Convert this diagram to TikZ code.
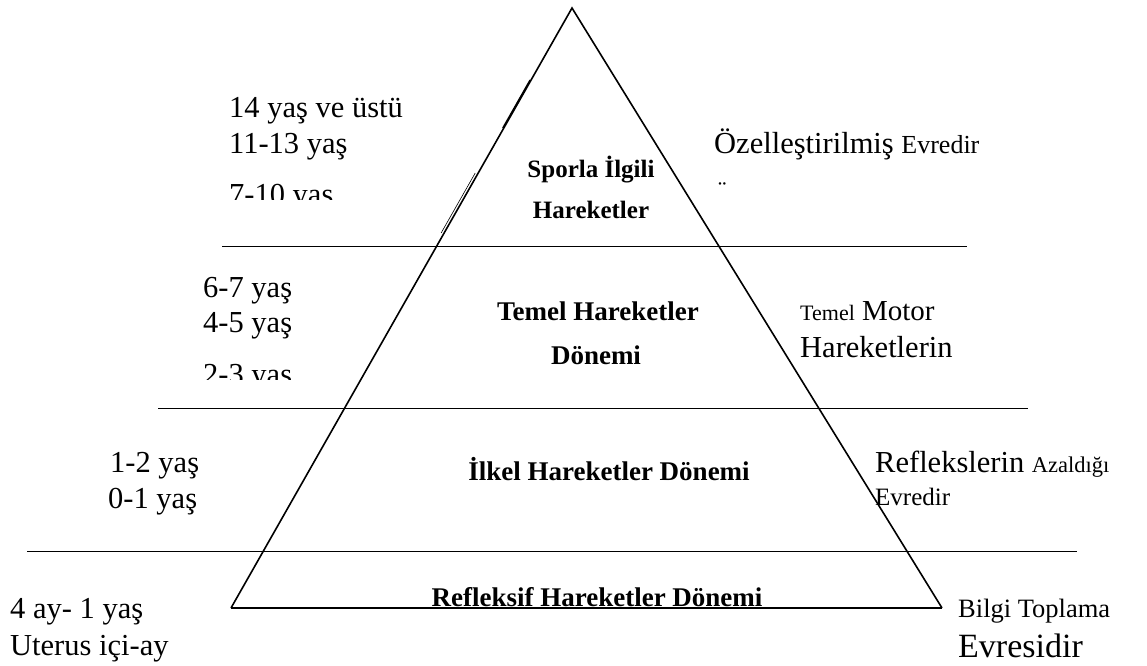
\documentclass[tikz,border=0pt]{standalone}
\usepackage{fontspec}
\setmainfont{Liberation Serif}
\usetikzlibrary{calc}
\begin{document}
\begin{tikzpicture}[x=1pt,y=-1pt,
  big/.style={anchor=base west,inner sep=0pt,font=\fontsize{30.5}{36}\selectfont},
  sml/.style={anchor=base west,inner sep=0pt,font=\fontsize{25}{30}\selectfont},
  ctr/.style={anchor=base,inner sep=0pt,font=\bfseries\fontsize{27}{30}\selectfont},
  edge/.style={line width=1.6pt},
  rule/.style={line width=1pt}]
\useasboundingbox (0,0) rectangle (1147,665);
% triangle
\coordinate (apex) at (572,8);
\coordinate (bl) at (231,608);
\coordinate (br) at (942,608);
\draw[edge] (bl) -- (apex) -- (br);
\draw[line width=2.2pt] (bl) -- (br);
% doubled strokes on the left side
\draw[line width=1.4pt] ($(apex)!0.12!(bl)+(-1,0)$) -- ($(apex)!0.20!(bl)+(-1,0)$);
\draw[line width=0.6pt] ($(apex)!0.275!(bl)+(-3,0)$) -- ($(apex)!0.375!(bl)+(-3,0)$);
% horizontal rules
\coordinate (r1a) at (222,246); \coordinate (r1b) at (967,246);
\coordinate (r2a) at (158,408); \coordinate (r2b) at (1028,408);
\coordinate (r3a) at (27,551);  \coordinate (r3b) at (1077,551);
\draw[rule] (r1a) -- (r1b);
\draw[rule] (r2a) -- (r2b);
\draw[rule] (r3a) -- (r3b);
% left column
\node[big] (a14) at (229,117) {14 yaş ve üstü};
\node[big] (a11) at (229,153) {11-13 yaş};
\begin{scope}
\clip (220,170) rectangle (400,199);
\node[big] (a7) at (229,204) {7-10 yaş};
\end{scope}
\node[big] (a6) at (203,297) {6-7 yaş};
\node[big] (a4) at (203,332) {4-5 yaş};
\begin{scope}
\clip (195,350) rectangle (380,379);
\node[big] (a2) at (203,384) {2-3 yaş};
\end{scope}
\node[big] (a1) at (110,472) {1-2 yaş};
\node[big] (a0) at (108,508) {0-1 yaş};
\node[big] (ay) at (10,618) {4 ay- 1 yaş};
\node[big] (ut) at (10,655) {Uterus içi-ay};
% centre labels
\node[ctr,font=\bfseries\fontsize{25}{28}\selectfont] (c1) at (591,177) {Sporla İlgili};
\node[ctr,font=\bfseries\fontsize{25}{28}\selectfont] (c2) at (591,218) {Hareketler};
\node[ctr] (c3) at (598,320) {Temel Hareketler};
\node[ctr] (c4) at (596,364) {Dönemi};
\node[ctr] (c5) at (609,480) {İlkel Hareketler Dönemi};
\node[ctr] (c6) at (597,606) {Refleksif Hareketler Dönemi};
% right column
\node[big] (d1) at (714,153) {Özelleştirilmiş {\fontsize{26}{30}\selectfont Evredir}};
\node[sml] (d1b) at (718,198) {¨};
\node[big,font=\fontsize{29}{34}\selectfont] (d2) at (800,320) {{\fontsize{22}{28}\selectfont Temel} Motor};
\node[big] (d3) at (800,357) {Hareketlerin};
\node[big] (d4) at (875,472) {Reflekslerin {\fontsize{22.5}{30}\selectfont Azaldığı}};
\node[sml] (d5) at (875,505) {Evredir};
\node[sml,font=\fontsize{26.5}{30}\selectfont] (d6) at (958,617) {Bilgi Toplama};
\node[big,font=\fontsize{34}{38}\selectfont] (d7) at (958,657) {Evresidir};
\end{tikzpicture}
\end{document}
